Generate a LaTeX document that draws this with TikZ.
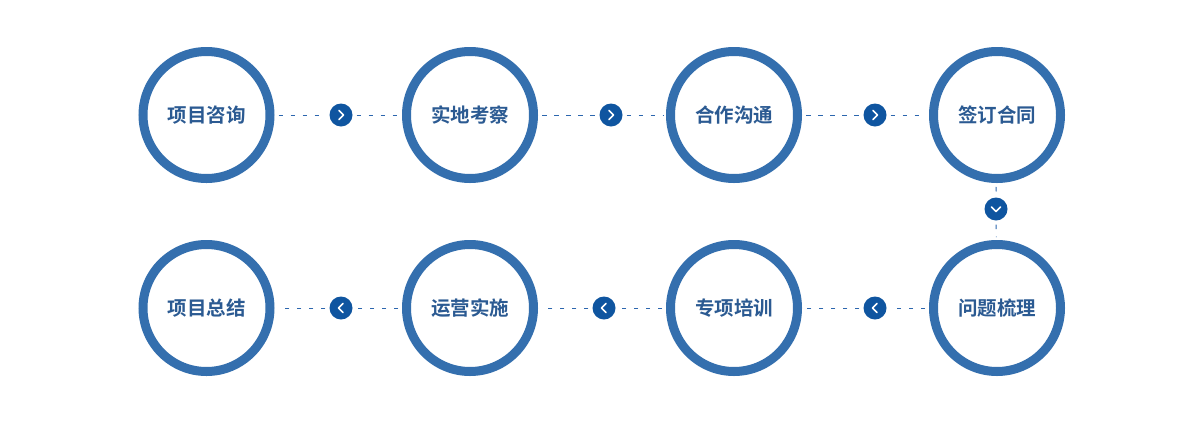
\documentclass[tikz,border=0pt]{standalone}
\usepackage{fontspec}
\usetikzlibrary{calc}
\newfontfamily\cjk{Noto Sans CJK SC Bold}
\begin{document}
\begin{tikzpicture}[x=1pt,y=-1pt,
  ring/.style={circle,draw=ringc,line width=9pt,minimum size=127pt,inner sep=0pt,outer sep=4.5pt,
    font=\cjk\fontsize{19.5}{21}\selectfont,text=textc},
  icon/.style={circle,fill=iconc,minimum size=23pt,inner sep=0pt},
  conn/.style={draw=dashc,line width=1pt,dash pattern=on 4.5pt off 7.5pt,shorten >=3pt,shorten <=4pt},
  chev/.style={draw=white,line width=1.6pt,line cap=round,line join=round}]
\definecolor{ringc}{HTML}{346FAE}
\definecolor{textc}{HTML}{2B5A92}
\definecolor{iconc}{HTML}{0F55A0}
\definecolor{dashc}{HTML}{2C66AE}
\useasboundingbox (0,0) rectangle (1203,424);
\fill[white] (0,0) rectangle (1203,424);
\node[ring] (c1) at (206.5,115) {项目咨询};
\node[ring] (c2) at (470,115) {实地考察};
\node[ring] (c3) at (734,115) {合作沟通};
\node[ring] (c4) at (997,115) {签订合同};
\node[ring] (c5) at (997,308) {问题梳理};
\node[ring] (c6) at (734,308) {专项培训};
\node[ring] (c7) at (470,308) {运营实施};
\node[ring] (c8) at (206.5,308) {项目总结};
\node[icon] (i1) at (341,115) {};
\node[icon] (i2) at (611,115) {};
\node[icon] (i3) at (875,115) {};
\node[icon] (i4) at (996,209) {};
\node[icon] (i5) at (875,308) {};
\node[icon] (i6) at (604,308) {};
\node[icon] (i7) at (341,308) {};
\foreach \a/\b in {c1/i1,i1/c2,c2/i2,i2/c3,c3/i3,i3/c4,c4/i4,i4/c5,c5/i5,i5/c6,c6/i6,i6/c7,c7/i7,i7/c8}
  \draw[conn] (\a) -- (\b);
% chevrons
\foreach \n in {i1,i2,i3}
  \draw[chev] ($(\n)+(-2,-4.5)$) -- ($(\n)+(2.5,0)$) -- ($(\n)+(-2,4.5)$);
\foreach \n in {i5,i6,i7}
  \draw[chev] ($(\n)+(2,-4.5)$) -- ($(\n)+(-2.5,0)$) -- ($(\n)+(2,4.5)$);
\draw[chev] ($(i4)+(-4.5,-2)$) -- ($(i4)+(0,2.5)$) -- ($(i4)+(4.5,-2)$);
\end{tikzpicture}
\end{document}
